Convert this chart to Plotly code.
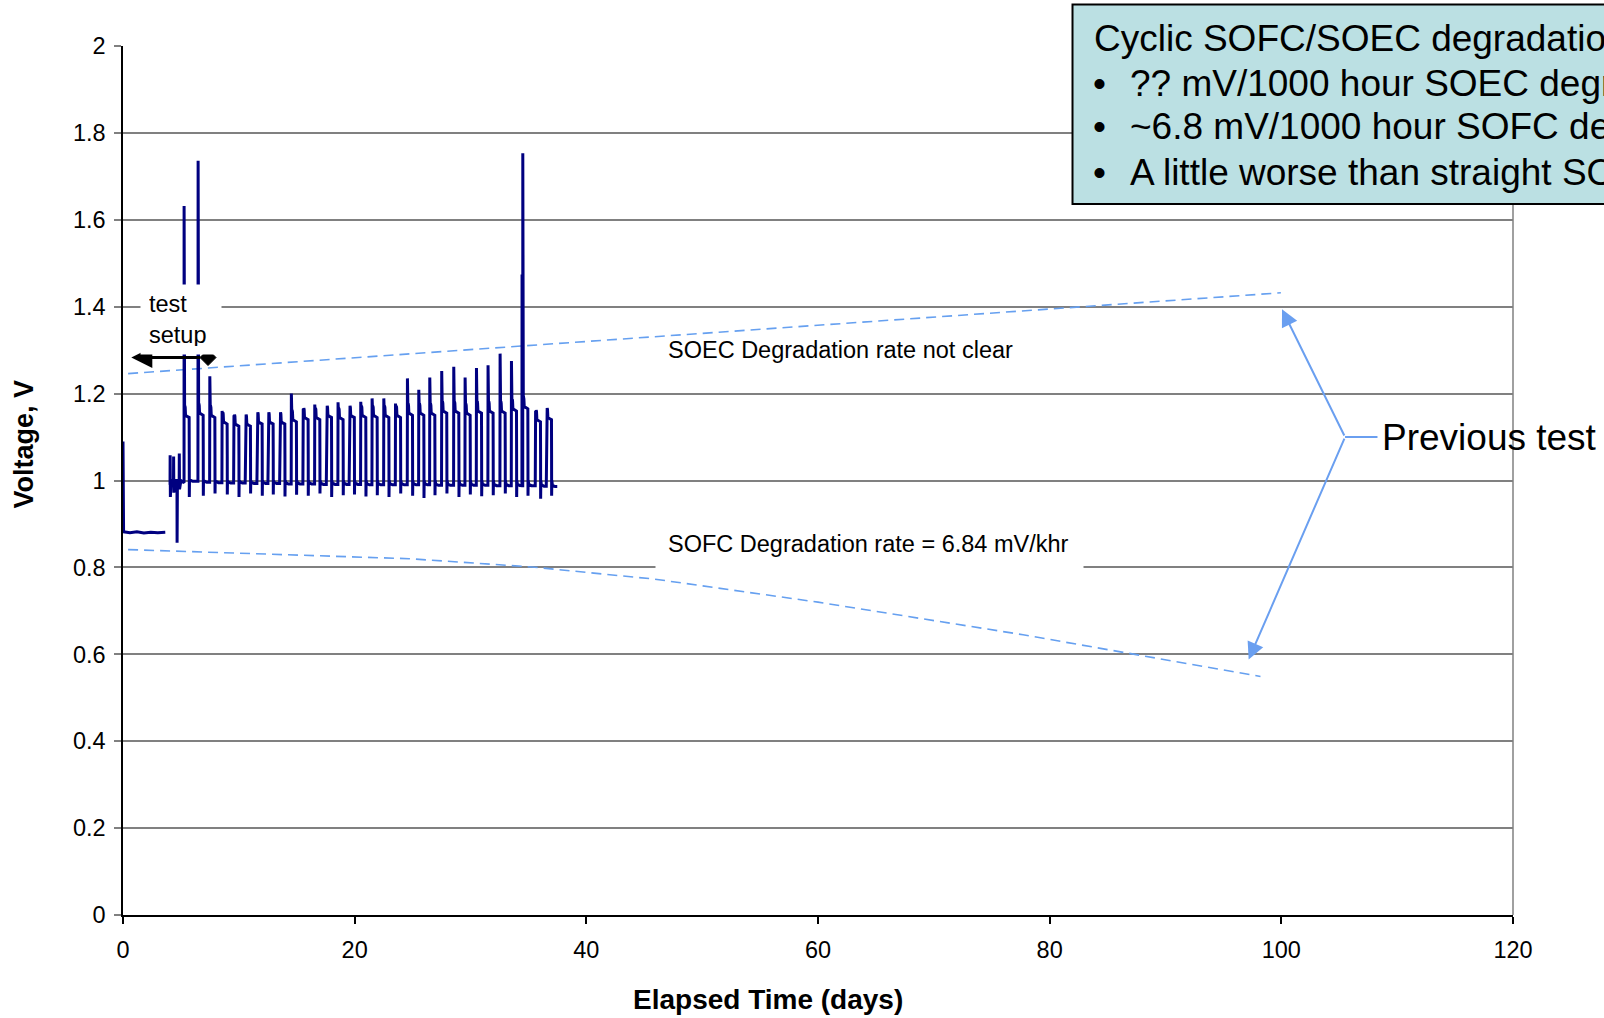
import plotly.graph_objects as go

FONT = "Liberation Sans, Arial, sans-serif"
NAVY = "#000080"
TREND_BLUE = "#66A0F0"
GRID = "#808080"

# ---- axis ticks ----
x_tick_vals = [0, 20, 40, 60, 80, 100, 120]
y_tick_vals = [0, 0.2, 0.4, 0.6, 0.8, 1.0, 1.2, 1.4, 1.6, 1.8, 2.0]
y_tick_text = ["0", "0.2", "0.4", "0.6", "0.8", "1", "1.2", "1.4", "1.6", "1.8", "2"]

# ---- measured cell voltage ----
# start-up section at constant load
startup_days = [0.0, 0.0, 0.05, 0.6, 1.2, 1.8, 2.4, 3.0, 3.65]
startup_volts = [1.09, 0.886, 0.882, 0.880, 0.882, 0.879, 0.881, 0.880, 0.881]

# settling section before cycling
settle_days = [4.06, 4.07, 4.09, 4.15, 4.36, 4.37, 4.39, 4.5, 4.66, 4.67, 4.70, 4.85, 4.86, 4.88, 5.0, 5.2]
settle_volts = [0.99, 1.058, 0.962, 1.0, 1.0, 1.055, 0.972, 1.0, 1.0, 0.857, 1.0, 1.0, 1.062, 0.98, 1.0, 0.995]

# daily SOEC / SOFC cycles
cycle_start_days = [5.27, 6.48, 7.49, 8.55, 9.56, 10.56, 11.57, 12.52, 13.53, 14.53,
                    15.54, 16.55, 17.56, 18.56, 19.53, 20.52, 21.50, 22.51, 23.52, 24.55,
                    25.53, 26.48, 27.51, 28.55, 29.53, 30.51, 31.51, 32.55, 33.53, 34.51,
                    35.60, 36.55]
soec_peak_volts = [1.632, 1.736, 1.240, 1.160, 1.145, 1.150, 1.150, 1.155, 1.150, 1.200,
                   1.160, 1.175, 1.170, 1.180, 1.169, 1.181, 1.189, 1.189, 1.177, 1.235,
                   1.209, 1.237, 1.252, 1.262, 1.237, 1.259, 1.265, 1.292, 1.275, 1.753,
                   1.154, 1.166]
soec_plateau_volts = [1.15, 1.155, 1.15, 1.135, 1.13, 1.13, 1.135, 1.135, 1.135, 1.14,
                      1.145, 1.145, 1.15, 1.145, 1.15, 1.15, 1.15, 1.15, 1.15, 1.155,
                      1.155, 1.155, 1.16, 1.16, 1.155, 1.16, 1.16, 1.16, 1.165, 1.17,
                      1.14, 1.145]
sofc_dip_volts = [0.962, 0.965, 0.97, 0.968, 0.962, 0.97, 0.965, 0.968, 0.963, 0.967,
                  0.965, 0.97, 0.962, 0.966, 0.968, 0.963, 0.966, 0.962, 0.97, 0.965,
                  0.96, 0.966, 0.97, 0.962, 0.968, 0.964, 0.966, 0.97, 0.962, 0.965,
                  0.958, 0.965]
sofc_level_volts = [0.998, 0.996, 0.995, 0.994, 0.994, 0.993, 0.993, 0.993, 0.992, 0.992,
                    0.992, 0.991, 0.991, 0.991, 0.991, 0.99, 0.99, 0.99, 0.99, 0.99,
                    0.99, 0.989, 0.989, 0.989, 0.989, 0.989, 0.988, 0.988, 0.988, 0.988,
                    0.987, 0.986]
test_end_day = 37.5

# SOEC half-cycle profile after the switching spike (days after start, V above plateau)
soec_profile_dt = [0.02, 0.05, 0.07, 0.10, 0.13, 0.30, 0.44]
soec_profile_dv = [0.02, 0.008, 0.022, 0.018, 0.0, -0.003, -0.005]
# SOFC half-cycle: OCV pass, undershoot, recovery (days after cycle start)
sofc_ocv_volts = 1.06
sofc_profile_dt = [0.45, 0.455, 0.47, 0.52, 0.75]

# isolated transient
extra_spike_days = [34.45]
extra_spike_volts = [1.474]

# ---- previous-test trend lines ----
soec_trend_days = [0.44, 99.96]
soec_trend_volts = [1.246, 1.432]
sofc_trend_days = [0.44, 24.7, 35.3, 45.9, 60.0, 77.7, 98.2]
sofc_trend_volts = [0.841, 0.820, 0.801, 0.773, 0.72, 0.645, 0.549]

# ---- assemble the cycling record ----
pts = list(zip(settle_days, settle_volts))
for i, t0 in enumerate(cycle_start_days):
    t1 = cycle_start_days[i + 1] if i + 1 < len(cycle_start_days) else test_end_day
    prev_level = sofc_level_volts[i - 1] if i > 0 else settle_volts[-1]
    level = sofc_level_volts[i]
    plateau = soec_plateau_volts[i]
    pts.append((t0, prev_level))
    pts.append((t0 + 0.005, soec_peak_volts[i]))
    for dt, dv in zip(soec_profile_dt, soec_profile_dv):
        pts.append((t0 + dt, plateau + dv))
    sofc_vals = [sofc_ocv_volts, sofc_dip_volts[i], 1.0, level + 0.003, level]
    for dt, v in zip(sofc_profile_dt, sofc_vals):
        pts.append((t0 + dt, v))
    pts.append((t1 - 0.01, level))
for d, v in zip(extra_spike_days, extra_spike_volts):
    pts += [(d - 0.01, 0.99), (d, v), (d + 0.01, 0.99)]
pts.sort(key=lambda p: p[0])

trace_days = startup_days + [None] + [p[0] for p in pts]
trace_volts = startup_volts + [None] + [p[1] for p in pts]

fig = go.Figure()
fig.add_trace(go.Scatter(x=soec_trend_days, y=soec_trend_volts, mode="lines",
                         line=dict(color=TREND_BLUE, width=1.6, dash="10px,6px"),
                         hoverinfo="skip"))
fig.add_trace(go.Scatter(x=sofc_trend_days, y=sofc_trend_volts, mode="lines",
                         line=dict(color=TREND_BLUE, width=1.6, dash="10px,6px"),
                         hoverinfo="skip"))
fig.add_trace(go.Scatter(x=trace_days, y=trace_volts, mode="lines",
                         line=dict(color=NAVY, width=3), connectgaps=False))

shapes = [
    # right frame edge
    dict(type="line", xref="paper", yref="paper", x0=1, x1=1, y0=0, y1=1,
         line=dict(color=GRID, width=1.5)),
    # summary box
    dict(type="rect", xref="paper", yref="paper", x0=0.6831, x1=1.08, y0=0.8182, y1=1.0478,
         fillcolor="#BBE0E3", line=dict(color="black", width=2), layer="above"),
    # connector to "Previous test"
    dict(type="line", xref="x", yref="y", x0=105.5, x1=108.3, y0=1.10, y1=1.10,
         line=dict(color="#6A9FF0", width=2)),
    # diamond end of the test-setup span
    dict(type="path", xref="x", yref="y", xsizemode="pixel", ysizemode="pixel",
         xanchor=7.34, yanchor=1.283, path="M-8,0 L0,-8 L8,0 L0,8 Z",
         fillcolor="black", line=dict(color="black", width=1), layer="above"),
]

ann = []
# test-setup span arrow
ann.append(dict(x=0.72, y=1.283, ax=6.8, ay=1.283, xref="x", yref="y", axref="x", ayref="y",
                text="", showarrow=True, arrowhead=2, arrowsize=1.4, arrowwidth=3,
                arrowcolor="black", standoff=0))
ann.append(dict(x=1.44, y=1.370, xref="x", yref="y", xanchor="left", yanchor="middle",
                text="test<br>setup", showarrow=False, align="left", bgcolor="white",
                width=64, height=53, borderpad=8,
                font=dict(family=FONT, size=23.5, color="black")))
ann.append(dict(x=46.9, y=1.30, xref="x", yref="y", xanchor="left", yanchor="middle",
                text="SOEC Degradation rate not clear", showarrow=False,
                font=dict(family=FONT, size=23.5, color="black")))
ann.append(dict(x=45.9, y=0.853, xref="x", yref="y", xanchor="left", yanchor="middle",
                text="SOFC Degradation rate = 6.84 mV/khr", showarrow=False, align="left",
                bgcolor="white", width=403, height=36, borderpad=12,
                font=dict(family=FONT, size=23.5, color="black")))
# previous-test pointers
for tip_x, tip_y in [(100.06, 1.394), (97.18, 0.588)]:
    ann.append(dict(x=tip_x, y=tip_y, ax=105.5, ay=1.10, xref="x", yref="y",
                    axref="x", ayref="y", text="", showarrow=True, arrowhead=2,
                    arrowsize=1.7, arrowwidth=2, arrowcolor="#6A9FF0", standoff=0))
ann.append(dict(x=108.5, y=1.10, xref="x", yref="y", xanchor="left", yanchor="middle",
                text="Previous test", showarrow=False,
                font=dict(family=FONT, size=37, color="black")))
# summary box text
box_font = dict(family=FONT, size=37, color="black")
ann.append(dict(x=0.6971, y=1.0092, xref="paper", yref="paper", xanchor="left", yanchor="middle",
                text="Cyclic SOFC/SOEC degradation", showarrow=False, font=box_font))
bullet_lines = ["?? mV/1000 hour SOEC degradation",
                "~6.8 mV/1000 hour SOFC degradation",
                "A little worse than straight SOFC"]
for yy, line in zip([0.9574, 0.9068, 0.855], bullet_lines):
    ann.append(dict(x=0.7022, y=yy, xref="paper", yref="paper", xanchor="center",
                    yanchor="middle", text="•", showarrow=False, font=box_font))
    ann.append(dict(x=0.7230, y=yy, xref="paper", yref="paper", xanchor="left",
                    yanchor="middle", text=line, showarrow=False, font=box_font))
# axis titles
ann.append(dict(x=0.464, y=-0.0978, xref="paper", yref="paper", xanchor="center",
                yanchor="middle", text="<b>Elapsed Time (days)</b>", showarrow=False,
                font=dict(family=FONT, size=28, color="black")))
ann.append(dict(x=-0.0709, y=0.542, xref="paper", yref="paper", xanchor="center",
                yanchor="middle", text="<b>Voltage, V</b>", showarrow=False, textangle=-90,
                font=dict(family=FONT, size=27, color="black")))

fig.update_layout(
    width=1604, height=1018,
    margin=dict(l=123, r=91, t=46, b=103),
    paper_bgcolor="white", plot_bgcolor="white",
    showlegend=False,
    shapes=shapes, annotations=ann,
    xaxis=dict(range=[0, 120], tickmode="array", tickvals=x_tick_vals,
               ticks="outside", ticklen=7, tickcolor="black", tickwidth=1.5,
               showline=True, linecolor="black", linewidth=1.5,
               showgrid=False, zeroline=False, ticklabelstandoff=6,
               tickfont=dict(family=FONT, size=23.5, color="black")),
    yaxis=dict(range=[0, 2], tickmode="array", tickvals=y_tick_vals, ticktext=y_tick_text,
               ticks="outside", ticklen=7, tickcolor=GRID, tickwidth=1.5,
               showline=True, linecolor="black", linewidth=1.5,
               showgrid=True, gridcolor=GRID, gridwidth=1.5, zeroline=False,
               ticklabelstandoff=4,
               tickfont=dict(family=FONT, size=23.5, color="black")),
)

fig.write_html("out.html")
